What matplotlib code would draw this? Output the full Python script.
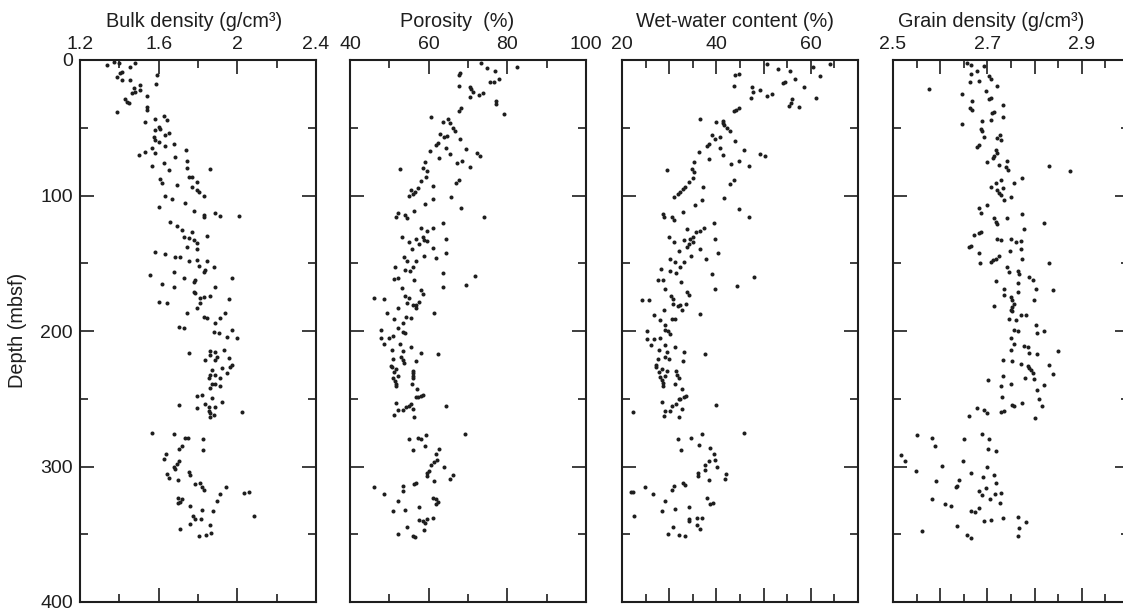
import matplotlib.pyplot as plt
from matplotlib.ticker import MultipleLocator, FuncFormatter

plt.rcParams["font.family"] = ["Liberation Sans", "DejaVu Sans"]

# (depth mbsf, value)
bulk_density = [
    (3.7, 1.337), (1.2, 1.371), (2.5, 1.397), (8.6, 1.414), (9.8, 1.405), (4.9, 1.456), (2.0, 1.481),
    (12.8, 1.388), (14.8, 1.414), (14.8, 1.456), (20.9, 1.473), (18.5, 1.507), (24.6, 1.464), (23.4, 1.481),
    (22.1, 1.507), (26.6, 1.541), (11.1, 1.592), (18.0, 1.588), (29.0, 1.430), (30.8, 1.439), (32.0, 1.447),
    (34.4, 1.541), (36.9, 1.541), (38.1, 1.388), (45.5, 1.532), (43.5, 1.583), (41.3, 1.625), (44.3, 1.642),
    (49.2, 1.600), (51.7, 1.583), (51.2, 1.608), (55.4, 1.634), (54.1, 1.651), (56.6, 1.575), (59.0, 1.583),
    (60.3, 1.600), (63.5, 1.634), (62.0, 1.676), (65.2, 1.566), (67.7, 1.532), (70.1, 1.498), (68.9, 1.583),
    (71.8, 1.685), (66.4, 1.741), (74.3, 1.744), (75.8, 1.625), (78.0, 1.566), (79.5, 1.744), (81.2, 1.651),
    (80.4, 1.863), (86.1, 1.753), (86.6, 1.770), (89.8, 1.795), (88.1, 1.608), (90.5, 1.617), (92.3, 1.693),
    (93.5, 1.770), (95.9, 1.795), (97.2, 1.803), (100.1, 1.829), (100.4, 1.634), (102.6, 1.668), (105.8, 1.736),
    (108.2, 1.600), (111.2, 1.778), (114.4, 1.829), (116.1, 1.829), (112.7, 1.888), (115.1, 1.914), (114.9, 2.007),
    (119.3, 1.659), (122.5, 1.693), (125.5, 1.719), (130.4, 1.727), (126.7, 1.770), (131.6, 1.753), (132.8, 1.778),
    (135.3, 1.795), (137.8, 1.744), (139.7, 1.795), (129.9, 1.846), (141.5, 1.583), (143.4, 1.634), (145.6, 1.685),
    (145.1, 1.710), (148.1, 1.753), (147.6, 1.795), (148.1, 1.846), (152.0, 1.803), (155.0, 1.837), (156.2, 1.829),
    (153.0, 1.880), (156.2, 1.676), (158.7, 1.558), (161.1, 1.727), (163.6, 1.778), (162.4, 1.786), (161.1, 1.973),
    (165.6, 1.617), (167.3, 1.676), (167.8, 1.888), (171.0, 1.778), (172.2, 1.786), (175.9, 1.812), (175.2, 1.829),
    (174.2, 1.863), (176.6, 1.956), (179.6, 1.812), (178.4, 1.600), (179.1, 1.642), (183.3, 1.795), (186.5, 1.744),
    (186.5, 1.939), (189.4, 1.829), (190.2, 1.846), (190.7, 1.914), (194.3, 1.888), (197.3, 1.702), (198.0, 1.727),
    (200.5, 1.880), (199.3, 1.973), (201.7, 1.905), (204.2, 1.947), (204.9, 1.998),
    (216.0, 1.753), (214.5, 1.863), (215.3, 1.888), (214.0, 1.931), (220.2, 1.956), (225.1, 1.973), (226.3, 1.964),
    (230.7, 1.947), (234.9, 1.914), (232.5, 1.888), (232.5, 1.863), (234.9, 1.854), (228.8, 1.871), (221.4, 1.888),
    (219.4, 1.897), (217.7, 1.863), (221.4, 1.837), (227.6, 1.922), (240.6, 1.914), (239.1, 1.888), (239.1, 1.871),
    (242.3, 1.863), (248.0, 1.795), (247.2, 1.820), (249.2, 1.871), (252.7, 1.922), (253.9, 1.837), (255.8, 1.854),
    (255.8, 1.888), (254.6, 1.702), (256.8, 1.795), (258.8, 1.854), (260.8, 1.863), (262.0, 1.880), (263.7, 1.859),
    (260.1, 2.024), (275.0, 1.566), (276.0, 1.680), (278.7, 1.736), (279.2, 1.747), (279.7, 1.825), (287.8, 1.825),
    (284.9, 1.719), (286.8, 1.702), (290.8, 1.639), (294.7, 1.625), (295.7, 1.702), (298.2, 1.693), (300.1, 1.676),
    (301.8, 1.685), (305.5, 1.642), (308.7, 1.651), (310.0, 1.697), (304.3, 1.753), (306.3, 1.758), (313.2, 1.786),
    (312.0, 1.808), (314.9, 1.820), (317.4, 1.832), (314.9, 1.944), (320.5, 1.914), (325.2, 1.897), (319.3, 2.036),
    (319.1, 2.058), (323.0, 1.697), (324.0, 1.719), (326.7, 1.697), (326.0, 1.710), (329.1, 1.761), (332.1, 1.820),
    (332.6, 1.876), (336.3, 2.086), (336.9, 1.775), (338.4, 1.786), (338.9, 1.815), (342.1, 1.758), (343.3, 1.863),
    (345.8, 1.710), (351.2, 1.803), (350.2, 1.842), (349.4, 1.866),
]

porosity = [
    (2.5, 73.4), (6.2, 74.8), (7.9, 76.8), (14.3, 78.0), (16.0, 76.5), (16.5, 75.7), (4.9, 82.5), (11.1, 67.8),
    (9.8, 68.0), (18.9, 67.7), (20.2, 70.4), (21.6, 70.8), (23.4, 71.2), (27.6, 70.6), (25.8, 72.9), (24.6, 73.8),
    (30.3, 77.2), (32.5, 77.0), (39.9, 79.1), (35.7, 68.3), (37.4, 67.7), (42.3, 60.6), (45.5, 63.7), (43.8, 65.0),
    (46.7, 65.3), (50.4, 66.1), (52.2, 66.6), (54.6, 63.0), (56.6, 64.0), (56.1, 64.7), (58.5, 68.0), (61.0, 62.3),
    (62.7, 61.9), (64.7, 64.3), (65.9, 69.4), (68.9, 72.3), (70.8, 73.1), (67.2, 60.3), (69.6, 65.3), (72.6, 62.6),
    (75.0, 59.1), (74.5, 68.5), (76.3, 67.1), (78.7, 70.4), (80.7, 52.7), (80.0, 58.6), (81.9, 59.7), (86.6, 59.3),
    (89.1, 58.0), (93.0, 61.0), (88.6, 67.7), (91.0, 67.0), (94.7, 57.2), (97.2, 56.6), (98.9, 55.9), (100.1, 55.1),
    (95.9, 55.5), (100.9, 65.8), (102.8, 61.0), (106.3, 59.1), (109.0, 68.1), (115.6, 74.0), (113.2, 52.1),
    (115.6, 51.7), (114.4, 54.0), (116.9, 54.6), (111.2, 56.3), (120.0, 63.6), (124.2, 58.0), (126.0, 59.7),
    (124.2, 61.0), (130.4, 53.1), (134.1, 55.1), (132.3, 56.8), (130.4, 58.5), (132.8, 58.9), (133.3, 59.7),
    (135.8, 57.6), (132.1, 64.3), (139.7, 55.7), (139.0, 61.0), (142.2, 64.3), (145.1, 53.8), (148.1, 54.6),
    (144.6, 58.9), (146.4, 61.9), (148.1, 56.8), (153.0, 51.5), (152.5, 56.1), (155.0, 54.0), (155.7, 55.3),
    (161.4, 51.2), (161.1, 52.1), (162.4, 56.3), (156.9, 63.6), (168.0, 53.1), (169.7, 58.0), (172.7, 58.5),
    (167.3, 63.6), (166.1, 69.4), (159.4, 71.9), (174.2, 54.0), (175.9, 55.1), (175.9, 46.1), (176.6, 48.7),
    (179.6, 54.6), (180.8, 55.9), (180.8, 56.8), (178.4, 57.6), (183.3, 56.8), (183.3, 52.3), (187.0, 49.5),
    (187.0, 61.3), (191.4, 51.2), (189.9, 54.2), (190.7, 55.5), (199.3, 47.8), (198.0, 52.3), (194.3, 53.4),
    (200.5, 53.4), (201.7, 54.0), (203.7, 51.0), (205.4, 50.0), (205.4, 48.0),
    (209.8, 48.7), (209.8, 52.7), (211.6, 55.5), (214.0, 50.8), (214.5, 53.4), (216.0, 58.0), (217.0, 62.3),
    (220.4, 51.0), (219.4, 52.9), (221.4, 53.4), (223.9, 53.8), (221.9, 56.8), (225.6, 50.4), (226.8, 50.6),
    (228.0, 51.7), (230.0, 51.2), (232.9, 52.3), (234.9, 51.0), (236.7, 51.5), (239.1, 51.8), (240.6, 51.7),
    (229.5, 55.9), (231.2, 55.9), (233.2, 55.9), (234.9, 55.9), (239.4, 55.7), (242.8, 57.0), (249.0, 56.8),
    (248.5, 57.4), (248.0, 58.0), (247.2, 58.5), (255.3, 64.4), (252.9, 51.8), (258.3, 52.3), (258.3, 53.4),
    (256.3, 54.2), (255.3, 55.1), (253.9, 55.5), (257.8, 56.1), (262.2, 51.2), (263.7, 56.3), (276.0, 69.3),
    (276.8, 59.3), (280.0, 55.1), (279.2, 57.4), (280.0, 58.0), (284.6, 59.1), (288.1, 55.9), (287.3, 62.7),
    (291.0, 61.9), (295.2, 62.0), (296.4, 61.4), (298.9, 60.6), (303.3, 60.0), (305.0, 59.7), (307.0, 59.5),
    (310.5, 61.3), (300.4, 64.0), (306.3, 66.1), (309.5, 65.3), (315.0, 46.1), (320.3, 48.7), (314.5, 53.5),
    (317.8, 53.5), (313.2, 56.3), (312.4, 56.8), (323.5, 61.0), (324.2, 61.9), (326.0, 62.3), (327.9, 61.9),
    (325.5, 52.3), (332.6, 51.0), (332.1, 54.0), (330.1, 57.6), (339.5, 57.6), (340.0, 58.5), (341.9, 59.1),
    (339.0, 59.7), (338.2, 61.0), (346.9, 58.9), (344.4, 54.6), (350.1, 52.3), (351.3, 55.9), (352.3, 56.5),
]

water_content = [
    (5.0, 60.5), (12.0, 62.0), (3.0, 64.0), (20.0, 58.5), (28.0, 61.0), (35.0, 57.5),
    (3.2, 50.8), (6.4, 53.1), (8.2, 55.5), (14.3, 56.7), (16.3, 54.6), (16.8, 54.1), (11.4, 44.0), (10.1, 44.7),
    (19.3, 43.8), (19.8, 47.5), (23.7, 47.7), (27.9, 47.3), (22.2, 49.2), (26.7, 50.8), (25.4, 51.7), (29.1, 56.0),
    (31.6, 55.7), (33.6, 55.3), (35.3, 44.7), (37.8, 43.7), (36.6, 44.2), (43.2, 36.5), (45.7, 39.9), (44.7, 41.4),
    (47.7, 41.7), (46.4, 41.3), (50.1, 42.2), (52.6, 42.8), (55.1, 39.0), (58.0, 39.7), (56.8, 40.7), (61.8, 38.5),
    (63.2, 38.0), (65.0, 40.7), (59.5, 44.0), (66.2, 45.9), (70.4, 41.4), (67.9, 36.3), (73.1, 38.5), (69.2, 49.2),
    (71.1, 50.2), (75.6, 35.3), (76.8, 43.1), (74.8, 44.7), (78.5, 47.0), (81.5, 29.5), (80.5, 34.8), (83.0, 35.3),
    (87.2, 35.1), (90.4, 34.1), (93.4, 33.4), (93.4, 37.2), (88.9, 43.8), (91.4, 42.8), (95.1, 33.0), (97.1, 32.3),
    (98.8, 31.8), (100.8, 31.1), (101.5, 41.7), (103.2, 36.9), (106.9, 35.5), (109.9, 44.7), (115.6, 47.0),
    (113.6, 28.7), (116.1, 28.8), (115.6, 30.6), (118.1, 31.1), (112.4, 32.9), (120.3, 39.5), (125.0, 33.7),
    (126.7, 35.7), (126.2, 36.5), (124.2, 37.4), (130.9, 29.9), (134.6, 31.1), (132.9, 33.2), (132.4, 34.4),
    (134.1, 35.0), (130.4, 35.1), (135.9, 34.1), (137.8, 33.7), (132.1, 39.7), (140.8, 32.0), (139.6, 36.5),
    (142.8, 40.3), (146.5, 30.1), (148.9, 31.3), (144.7, 34.6), (147.0, 37.8), (148.9, 33.2), (153.9, 28.3),
    (152.6, 32.3), (155.6, 30.1), (157.1, 31.5), (162.0, 27.6), (162.0, 28.7), (163.8, 32.5), (157.6, 39.0),
    (169.2, 29.2), (171.2, 33.7), (173.1, 34.1), (168.7, 39.7), (166.7, 44.3), (160.1, 48.0), (174.4, 30.4),
    (176.1, 30.8), (177.3, 24.3), (177.3, 25.7), (180.3, 30.7), (181.5, 31.8), (181.1, 32.3), (179.8, 33.6),
    (184.3, 32.7), (184.3, 29.0), (188.2, 26.8), (187.7, 36.5), (192.2, 28.0), (190.9, 30.6), (190.9, 31.3),
    (195.4, 29.2), (199.1, 29.2), (200.3, 29.7), (202.0, 30.1), (200.1, 25.2), (205.8, 25.4), (205.8, 26.8),
    (205.0, 28.0),
    (210.0, 26.1), (210.0, 29.2), (211.7, 31.3), (215.6, 33.2), (216.9, 37.6), (214.1, 27.8), (215.6, 29.5),
    (220.6, 27.6), (219.3, 29.2), (221.0, 29.9), (221.8, 32.9), (224.8, 27.3), (226.5, 27.1), (228.0, 28.5),
    (230.2, 27.8), (229.7, 29.5), (233.4, 29.2), (233.9, 28.0), (236.3, 28.5), (238.3, 28.7), (240.3, 28.7),
    (229.7, 31.5), (232.2, 31.6), (234.6, 32.0), (238.8, 31.3), (242.5, 32.7), (250.2, 32.3), (250.2, 32.0),
    (248.2, 33.6), (248.7, 33.2), (254.8, 40.0), (252.6, 28.5), (259.3, 29.2), (258.8, 30.1), (255.6, 30.6),
    (253.6, 31.5), (257.6, 32.7), (262.5, 28.8), (263.7, 32.1), (259.5, 22.4), (275.3, 45.9), (276.1, 36.9),
    (279.5, 31.8), (279.0, 34.6), (287.7, 32.5), (284.5, 36.4), (286.4, 38.7), (290.9, 39.4), (295.1, 39.8),
    (296.3, 38.5), (298.8, 37.6), (300.0, 40.1), (302.5, 37.6), (304.9, 36.0), (306.7, 36.2), (309.9, 38.5),
    (305.7, 42.1), (309.1, 41.9), (319.0, 21.9), (318.5, 22.3), (314.8, 24.8), (320.2, 26.6), (325.4, 29.2),
    (317.3, 30.6), (314.3, 31.1), (312.3, 33.0), (313.6, 33.4), (323.4, 38.0), (327.6, 38.6), (326.6, 39.2),
    (329.6, 34.1), (332.6, 28.5), (331.6, 31.2), (336.3, 22.5), (339.0, 34.1), (340.2, 34.3), (338.2, 35.8),
    (337.7, 36.9), (343.2, 35.8), (346.4, 36.5), (344.4, 30.8), (349.8, 29.7), (350.8, 32.0), (351.3, 33.4),
]

grain_density = [
    (2.5, 2.656), (4.0, 2.665), (8.2, 2.677), (4.4, 2.693), (11.9, 2.704), (13.8, 2.707), (19.3, 2.720),
    (10.6, 2.665), (16.3, 2.663), (15.6, 2.682), (21.7, 2.576), (23.0, 2.696), (25.4, 2.647), (30.4, 2.668),
    (29.1, 2.704), (27.9, 2.707), (32.9, 2.732), (35.3, 2.663), (36.6, 2.668), (39.0, 2.709), (38.5, 2.714),
    (44.0, 2.707), (42.0, 2.732), (45.2, 2.689), (46.9, 2.647), (50.9, 2.686), (52.6, 2.689), (56.8, 2.693),
    (57.6, 2.720), (58.8, 2.728), (55.1, 2.727), (64.2, 2.677), (62.5, 2.682), (66.2, 2.718), (68.7, 2.720),
    (70.6, 2.714), (72.4, 2.711), (75.6, 2.700), (77.3, 2.725), (74.8, 2.741), (81.0, 2.743), (79.0, 2.739),
    (88.4, 2.728), (87.2, 2.774), (90.9, 2.757), (90.9, 2.718), (93.4, 2.707), (95.8, 2.721), (94.1, 2.734),
    (98.3, 2.725), (99.5, 2.728), (103.2, 2.735), (100.8, 2.750), (109.4, 2.682), (113.1, 2.686), (107.0, 2.699),
    (116.8, 2.714), (119.3, 2.718), (121.0, 2.721), (116.8, 2.741), (113.6, 2.774), (124.5, 2.777), (126.7, 2.686),
    (127.9, 2.682), (129.2, 2.672), (137.3, 2.665), (137.8, 2.661), (132.4, 2.721), (132.9, 2.728), (132.4, 2.750),
    (134.1, 2.760), (133.4, 2.771), (140.8, 2.748), (139.8, 2.771), (142.8, 2.682), (149.7, 2.684), (148.9, 2.707),
    (147.7, 2.711), (146.5, 2.718), (144.7, 2.725), (146.5, 2.774), (153.1, 2.741), (156.4, 2.746), (155.6, 2.764),
    (157.6, 2.767), (160.1, 2.789), (162.5, 2.796), (163.3, 2.718), (164.5, 2.764), (168.7, 2.735), (173.6, 2.735),
    (168.7, 2.803), (174.9, 2.750), (177.3, 2.753), (179.8, 2.757), (171.2, 2.764), (182.3, 2.753), (177.3, 2.799),
    (184.3, 2.750), (185.3, 2.753), (181.5, 2.714), (190.9, 2.746), (188.5, 2.771), (188.0, 2.782), (192.2, 2.760),
    (199.6, 2.757), (200.1, 2.764), (195.4, 2.803), (201.6, 2.806), (205.3, 2.750),
    (78.0, 2.830), (82.0, 2.875), (120.0, 2.820), (150.0, 2.830), (170.0, 2.840), (200.0, 2.820), (215.0, 2.850),
    (225.0, 2.830), (232.0, 2.840), (240.0, 2.820), (255.0, 2.815),
    (209.9, 2.757), (211.2, 2.778), (211.7, 2.785), (214.1, 2.751), (216.1, 2.789), (217.3, 2.806), (221.5, 2.734),
    (222.3, 2.753), (224.0, 2.771), (225.5, 2.785), (227.2, 2.789), (228.5, 2.792), (230.9, 2.796), (234.6, 2.779),
    (235.4, 2.798), (233.4, 2.732), (236.3, 2.701), (238.8, 2.750), (240.8, 2.728), (243.3, 2.806), (248.7, 2.730),
    (253.1, 2.774), (254.8, 2.753), (255.6, 2.757), (250.2, 2.810), (260.0, 2.728), (259.3, 2.735), (256.8, 2.679),
    (258.1, 2.693), (260.5, 2.700), (262.5, 2.661), (264.2, 2.801), (276.6, 2.551), (279.0, 2.583), (284.7, 2.590),
    (279.8, 2.650), (275.8, 2.689), (279.8, 2.704), (287.2, 2.701), (288.4, 2.718), (291.4, 2.517), (295.6, 2.526),
    (299.5, 2.604), (296.3, 2.649), (303.0, 2.548), (304.9, 2.665), (300.5, 2.700), (310.4, 2.592), (309.9, 2.640),
    (314.3, 2.636), (315.3, 2.633), (307.4, 2.691), (306.2, 2.714), (312.3, 2.718), (316.0, 2.696), (318.0, 2.682),
    (321.0, 2.689), (324.2, 2.583), (327.6, 2.610), (328.9, 2.622), (324.2, 2.706), (320.2, 2.716), (319.7, 2.728),
    (326.6, 2.727), (332.6, 2.665), (333.8, 2.673), (330.8, 2.682), (340.2, 2.693), (339.5, 2.707), (338.2, 2.732),
    (343.7, 2.636), (347.4, 2.562), (350.8, 2.657), (352.5, 2.666), (337.0, 2.764), (340.7, 2.782), (345.1, 2.767),
    (351.3, 2.764),
]

titles = ["Bulk density (g/cm³)", "Porosity  (%)", "Wet-water content (%)", "Grain density (g/cm³)"]
x_limits = [(1.2, 2.4), (40, 100), (20, 70), (2.5, 3.0)]
major_steps = [0.4, 20, 10, 0.1]
minor_steps = [0.2, 10, 5, 0.05]
labelled_ticks = [[1.2, 1.6, 2.0, 2.4], [40, 60, 80, 100], [20, 40, 60], [2.5, 2.7, 2.9]]
title_x = [0.483, 0.452, 0.477, 0.415]

ink = "#1e1e1e"
fig = plt.figure(figsize=(11.23, 6.15), dpi=100)
lefts = [80, 350, 622, 893]

for i, data in enumerate([bulk_density, porosity, water_content, grain_density]):
    ax = fig.add_axes([lefts[i] / 1123, 13 / 615, 236 / 1123, 542 / 615])
    depth, value = zip(*data)
    ax.plot(value, depth, "o", color=ink, markersize=2.9, markeredgewidth=0)

    ax.set_xlim(*x_limits[i])
    ax.set_ylim(400, 0)
    ax.xaxis.set_major_locator(MultipleLocator(major_steps[i]))
    ax.xaxis.set_minor_locator(MultipleLocator(minor_steps[i]))
    ax.yaxis.set_major_locator(MultipleLocator(100))
    ax.yaxis.set_minor_locator(MultipleLocator(50))

    keep = labelled_ticks[i]
    ax.xaxis.set_major_formatter(FuncFormatter(
        lambda x, pos, keep=keep: "%g" % round(x, 2) if any(abs(x - k) < 1e-6 for k in keep) else ""))

    ax.tick_params(which="both", direction="in", top=True, bottom=True, left=True, right=True,
                   labeltop=True, labelbottom=False, labelleft=(i == 0), colors=ink,
                   labelsize=14, width=1.2)
    ax.tick_params(which="major", length=10, pad=5)
    ax.tick_params(which="minor", length=6)
    for spine in ax.spines.values():
        spine.set_linewidth(1.5)
        spine.set_color(ink)

    ax.text(title_x[i], 1.061, titles[i], transform=ax.transAxes, ha="center", va="baseline",
            fontsize=14.3, color=ink)

fig.text(18 / 1123, 1 - 330 / 615, "Depth (mbsf)", rotation=90, ha="center", va="center",
         fontsize=14.3, color=ink)

fig.savefig("out.png", dpi=100)
